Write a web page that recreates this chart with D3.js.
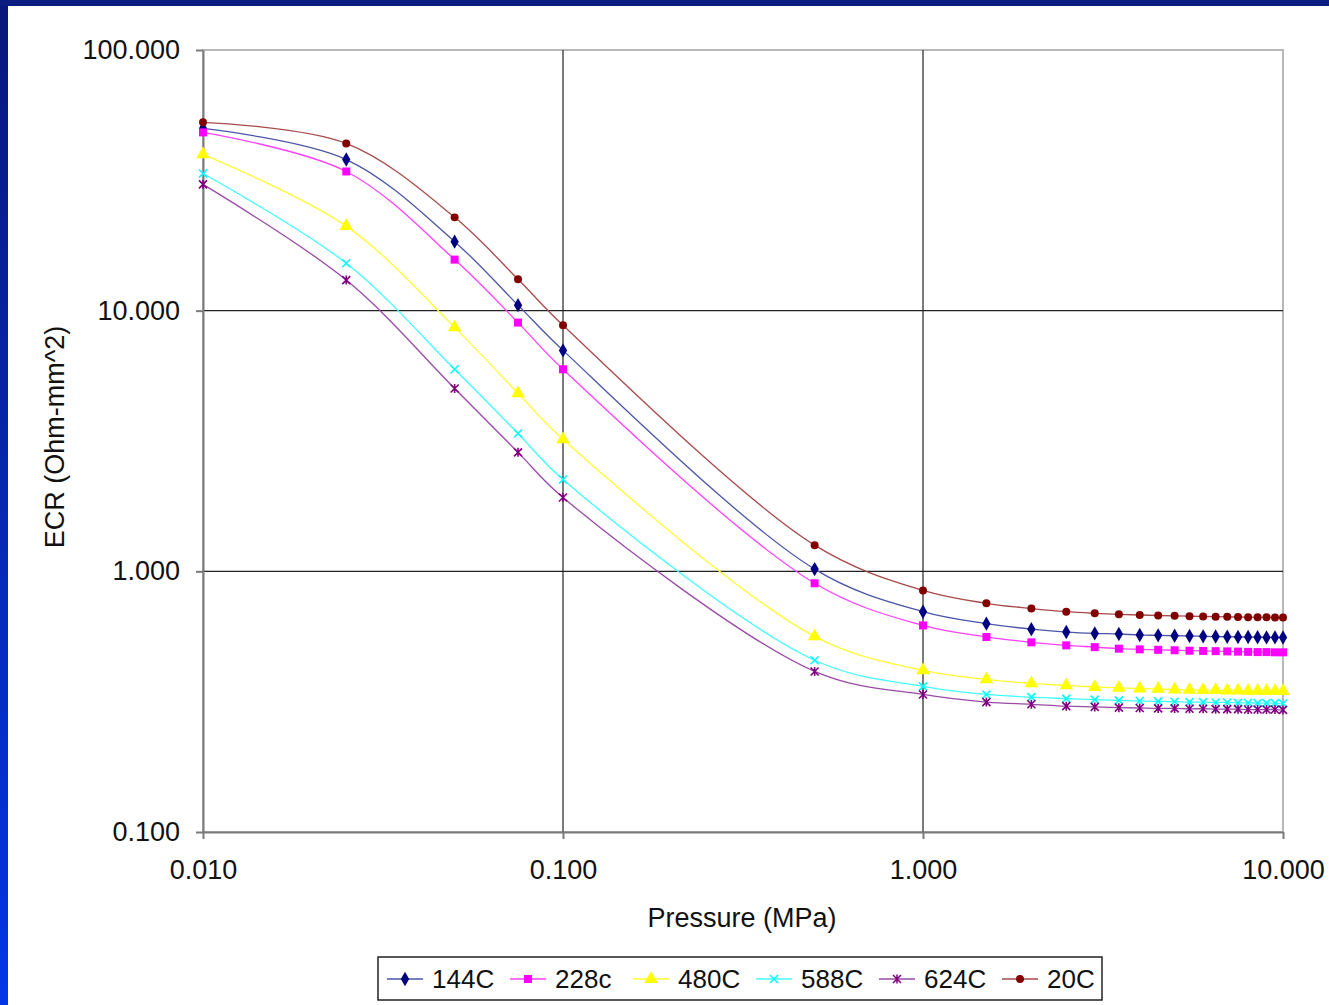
<!DOCTYPE html>
<meta charset="utf-8">
<style>

body {
  margin: 0;
  background: #fff;
}

text {
  font-family: "Liberation Sans", Arial, sans-serif;
  fill: #111;
}

.grid line {
  stroke: #222;
  stroke-width: 1.2px;
}

.series path.line {
  fill: none;
  stroke-width: 1.3px;
}

</style>
<body>
<script src="https://d3js.org/d3.v7.min.js"></script>
<script>

var pressure = [0.01, 0.025, 0.05, 0.075, 0.1, 0.5, 1, 1.5, 2, 2.5, 3, 3.5, 4, 4.5, 5, 5.5, 6, 6.5, 7, 7.5, 8, 8.5, 9, 9.5, 10];

var ecr144 = [50.0, 38.0, 18.4, 10.5, 7.04, 1.02, 0.70, 0.63, 0.60, 0.585, 0.578, 0.575, 0.57, 0.568, 0.566, 0.565, 0.563, 0.562, 0.561, 0.56, 0.56, 0.559, 0.558, 0.558, 0.557];
var ecr228 = [48.3, 34.2, 15.7, 9.0, 5.96, 0.90, 0.62, 0.56, 0.534, 0.52, 0.512, 0.505, 0.502, 0.5, 0.498, 0.496, 0.495, 0.494, 0.493, 0.492, 0.491, 0.49, 0.49, 0.489, 0.489];
var ecr480 = [39.8, 21.1, 8.63, 4.82, 3.21, 0.563, 0.417, 0.385, 0.372, 0.365, 0.36, 0.357, 0.355, 0.354, 0.352, 0.351, 0.35, 0.35, 0.349, 0.349, 0.348, 0.348, 0.347, 0.347, 0.347];
var ecr588 = [33.6, 15.2, 5.96, 3.38, 2.25, 0.456, 0.362, 0.337, 0.329, 0.325, 0.322, 0.32, 0.318, 0.317, 0.316, 0.315, 0.315, 0.314, 0.314, 0.313, 0.313, 0.312, 0.312, 0.312, 0.311];
var ecr624 = [30.5, 13.1, 5.03, 2.86, 1.92, 0.413, 0.337, 0.315, 0.309, 0.304, 0.302, 0.3, 0.299, 0.298, 0.298, 0.297, 0.297, 0.296, 0.296, 0.296, 0.295, 0.295, 0.295, 0.295, 0.294];
var ecr20 = [52.8, 43.8, 22.8, 13.2, 8.79, 1.26, 0.845, 0.754, 0.72, 0.70, 0.69, 0.684, 0.68, 0.677, 0.675, 0.673, 0.671, 0.67, 0.669, 0.668, 0.667, 0.666, 0.666, 0.665, 0.665];

var seriesNames = ["144C", "228c", "480C", "588C", "624C", "20C"];
var seriesValues = [ecr144, ecr228, ecr480, ecr588, ecr624, ecr20];
var seriesColors = ["#000080", "#ff00ff", "#ffff00", "#00ffff", "#800080", "#800000"];
var lineColors = ["#4a56a6", "#ff40ff", "#ffff30", "#40ffff", "#9a4aa6", "#a84a4a"];
var seriesMarkers = ["diamond", "square", "triangle", "x", "star", "circle"];

var xTicks = [0.01, 0.1, 1, 10];
var yTicks = [0.1, 1, 10, 100];

var w = 1329,
    h = 1005,
    pLeft = 203,
    pRight = 1283,
    pTop = 50,
    pBottom = 832;

var svg = d3.select("body").append("svg")
    .attr("width", w)
    .attr("height", h);

// blue slide frame
var grad = svg.append("defs").append("linearGradient")
    .attr("id", "frame")
    .attr("x1", 0).attr("y1", 0).attr("x2", 0).attr("y2", 1);
grad.append("stop").attr("offset", "0%").attr("stop-color", "#08187a");
grad.append("stop").attr("offset", "100%").attr("stop-color", "#0436e6");

svg.append("rect")
    .attr("width", 8)
    .attr("height", h)
    .style("fill", "url(#frame)");

svg.append("rect")
    .attr("width", w)
    .attr("height", 6)
    .style("fill", "#0a1c80");

var x = d3.scaleLog()
    .domain([0.01, 10])
    .range([pLeft, pRight]);

var y = d3.scaleLog()
    .domain([0.1, 100])
    .range([pBottom, pTop]);

var fmt = d3.format(".3f");

// plot area border (light gray)
svg.append("rect")
    .attr("x", pLeft)
    .attr("y", pTop)
    .attr("width", pRight - pLeft)
    .attr("height", pBottom - pTop)
    .style("fill", "none")
    .style("stroke", "#b8b8b8")
    .style("stroke-width", 2);

var grid = svg.append("g").attr("class", "grid");

grid.selectAll(".gx")
    .data(xTicks.slice(1, -1))
  .enter().append("line")
    .attr("x1", x).attr("x2", x)
    .attr("y1", pTop).attr("y2", pBottom);

grid.selectAll(".gy")
    .data(yTicks.slice(1, -1))
  .enter().append("line")
    .attr("x1", pLeft).attr("x2", pRight)
    .attr("y1", y).attr("y2", y);

// axes
var xAxis = d3.axisBottom(x)
    .tickValues(xTicks)
    .tickFormat(fmt)
    .tickSizeInner(7)
    .tickSizeOuter(0)
    .tickPadding(21);

var yAxis = d3.axisLeft(y)
    .tickValues(yTicks)
    .tickFormat(fmt)
    .tickSizeInner(7)
    .tickSizeOuter(0)
    .tickPadding(16);

var gx = svg.append("g")
    .attr("transform", "translate(0," + pBottom + ")")
    .call(xAxis);

var gy = svg.append("g")
    .attr("transform", "translate(" + pLeft + ",0)")
    .call(yAxis);

[gx, gy].forEach(function(g) {
  g.select(".domain").style("stroke", "#7a7a7a").style("stroke-width", 2);
  g.selectAll(".tick line").style("stroke", "#7a7a7a").style("stroke-width", 2);
  g.selectAll(".tick text")
      .style("font-size", "27px")
      .style("font-family", "'Liberation Sans', Arial, sans-serif")
      .style("fill", "#111");
});

svg.append("text")
    .attr("x", 742)
    .attr("y", 927)
    .attr("text-anchor", "middle")
    .style("font-size", "27px")
    .text("Pressure (MPa)");

svg.append("text")
    .attr("transform", "translate(64,437) rotate(-90)")
    .attr("text-anchor", "middle")
    .style("font-size", "27px")
    .text("ECR (Ohm-mm^2)");

function markerPath(type) {
  if (type == "diamond") return d3.symbol().type(d3.symbolDiamond).size(60)();
  if (type == "square") return d3.symbol().type(d3.symbolSquare).size(64)();
  if (type == "triangle") return d3.symbol().type(d3.symbolTriangle).size(80)();
  if (type == "circle") return d3.symbol().type(d3.symbolCircle).size(50)();
  if (type == "x") return "M-4,-4L4,4M-4,4L4,-4";
  return "M-4,-4L4,4M-4,4L4,-4M0,-4.5L0,4.5";
}

var line = d3.line()
    .x(function(d) { return x(d[0]); })
    .y(function(d) { return y(d[1]); })
    .curve(d3.curveCatmullRom.alpha(0.5));

var series = svg.selectAll(".series")
    .data(seriesValues)
  .enter().append("g")
    .attr("class", "series");

series.append("path")
    .attr("class", "line")
    .attr("d", function(vals) { return line(vals.map(function(v, i) { return [pressure[i], v]; })); })
    .style("stroke", function(d, i) { return lineColors[i]; });

series.each(function(vals, i) {
  var m = seriesMarkers[i];
  d3.select(this).selectAll(".pt")
      .data(vals)
    .enter().append("path")
      .attr("class", "pt")
      .attr("transform", function(v, j) { return "translate(" + x(pressure[j]) + "," + y(v) + ")"; })
      .attr("d", markerPath(m))
      .style("fill", (m == "x" || m == "star") ? "none" : seriesColors[i])
      .style("stroke", (m == "x" || m == "star") ? seriesColors[i] : "none")
      .style("stroke-width", 1.6);
});

// legend
var legend = svg.append("g");

legend.append("rect")
    .attr("x", 378)
    .attr("y", 957)
    .attr("width", 724)
    .attr("height", 43)
    .style("fill", "#fff")
    .style("stroke", "#222")
    .style("stroke-width", 1.5);

var item = legend.selectAll(".item")
    .data(seriesNames)
  .enter().append("g")
    .attr("transform", function(d, i) { return "translate(" + (387 + i * 123) + ",979)"; });

item.append("line")
    .attr("x1", 0).attr("x2", 36)
    .style("stroke", function(d, i) { return lineColors[i]; })
    .style("stroke-width", 1.5);

item.append("path")
    .attr("transform", "translate(18,0)")
    .attr("d", function(d, i) { return markerPath(seriesMarkers[i]); })
    .style("fill", function(d, i) { var m = seriesMarkers[i]; return (m == "x" || m == "star") ? "none" : seriesColors[i]; })
    .style("stroke", function(d, i) { var m = seriesMarkers[i]; return (m == "x" || m == "star") ? seriesColors[i] : "none"; })
    .style("stroke-width", 1.5);

item.append("text")
    .attr("x", 45)
    .attr("dy", "0.36em")
    .style("font-size", "26px")
    .text(function(d) { return d; });

</script>
